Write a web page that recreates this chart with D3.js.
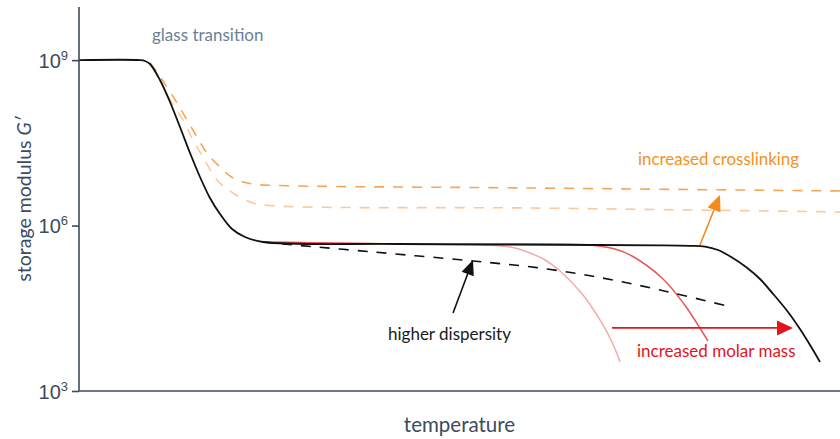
<!DOCTYPE html>
<html>
<head>
<meta charset="utf-8">
<script src="https://cdn.jsdelivr.net/npm/d3@7"></script>
<style>
  html, body { margin: 0; padding: 0; background: #fff; }
  svg { display: block; font-family: Lato, "Noto Sans", sans-serif; }
</style>
</head>
<body>
<svg id="chart" width="840" height="439"></svg>
<script>
// Temperature in arbitrary units (0–100), modulus as log10(G' / Pa)
const mainT    = [0, 8.02, 8.67, 9.33, 10.64, 11.96, 13.27, 14.59, 15.90, 17.21, 18.53, 20.11, 21.81, 24.18, 42.18, 68.46, 76.35, 80.29, 82.26, 83.97, 85.81, 87.65, 89.49, 91.33, 93.17, 94.74, 96.06, 97.37];
const mainLogG = [9.0, 9.0, 8.985, 8.930, 8.640, 8.241, 7.788, 7.316, 6.881, 6.500, 6.210, 5.938, 5.793, 5.702, 5.666, 5.648, 5.642, 5.633, 5.619, 5.557, 5.421, 5.249, 5.031, 4.741, 4.433, 4.124, 3.834, 3.527];

const lowMassT    = [24.18, 42.18, 54.01, 57.29, 59.26, 61.24, 63.21, 66.23, 68.46, 70.04, 71.09];
const lowMassLogG = [5.702, 5.666, 5.648, 5.594, 5.503, 5.376, 5.176, 4.741, 4.288, 3.889, 3.527];

const midMassT    = [24.18, 42.18, 67.14, 70.43, 72.67, 76.61, 79.5, 81.34, 82.65];
const midMassLogG = [5.702, 5.666, 5.648, 5.575, 5.448, 5.049, 4.578, 4.197, 3.907];

const dispersT    = [24.18, 26.81, 38.63, 51.77, 61.5, 70.17, 78.06, 85.15];
const dispersLogG = [5.702, 5.666, 5.521, 5.358, 5.213, 5.013, 4.777, 4.542];

const xlinkHighT    = [9.33, 10.25, 11.56, 12.88, 14.19, 15.51, 16.82, 18.53, 20.24, 22.86, 26.02, 59.26, 100];
const xlinkHighLogG = [8.948, 8.785, 8.513, 8.223, 7.915, 7.606, 7.316, 7.062, 6.863, 6.754, 6.727, 6.682, 6.627];

const xlinkLowT    = [9.33, 10.64, 11.96, 13.67, 14.98, 16.29, 18.13, 20.24, 22.86, 26.02, 59.26, 100];
const xlinkLowLogG = [8.948, 8.640, 8.278, 7.915, 7.552, 7.244, 6.827, 6.591, 6.410, 6.355, 6.319, 6.246];

const tickExponents = [3, 6, 9];

const svg = d3.select("#chart");
const axisColor = "#3e4b5e";

const x = d3.scaleLinear().domain([0, 100]).range([79, 840]);
const y = d3.scaleLog().domain([1e3, 1e10]).range([391, 5]);

const toPoints = (ts, gs) => ts.map((t, i) => [t, Math.pow(10, gs[i])]);
const line = d3.line().x(d => x(d[0])).y(d => y(d[1])).curve(d3.curveCatmullRom.alpha(0.5));

// Curves
function drawCurve(ts, gs, color, width, dash) {
  svg.append("path")
    .datum(toPoints(ts, gs))
    .attr("d", line)
    .attr("fill", "none")
    .attr("stroke", color)
    .attr("stroke-width", width)
    .attr("stroke-linecap", "butt")
    .attr("stroke-dasharray", dash || null);
}
drawCurve(xlinkLowT, xlinkLowLogG, "#fdc99c", 1.6, "10,9");
drawCurve(xlinkHighT, xlinkHighLogG, "#f7a552", 1.6, "10,9");
drawCurve(lowMassT, lowMassLogG, "#f6a9aa", 1.5);
drawCurve(midMassT, midMassLogG, "#ea5659", 1.5);
drawCurve(dispersT, dispersLogG, "#111", 1.6, "10,9");
drawCurve(mainT, mainLogG, "#111", 1.8);

// Axes
const yAxis = d3.axisLeft(y)
  .tickValues(tickExponents.map(e => Math.pow(10, e)))
  .tickSize(7)
  .tickSizeOuter(0)
  .tickFormat("");
const gy = svg.append("g").attr("transform", `translate(${x(0)},0)`).call(yAxis);
gy.select(".domain").attr("stroke", axisColor).attr("stroke-width", 1.6).attr("d", `M0,7V${y(1e3)}`);
gy.selectAll(".tick line").attr("stroke", axisColor).attr("stroke-width", 1.6);
gy.selectAll(".tick").each(function(d) {
  const e = Math.round(Math.log10(d));
  const t = d3.select(this).append("text")
    .attr("x", -11).attr("y", 7)
    .attr("text-anchor", "end")
    .attr("fill", axisColor)
    .attr("font-size", 20);
  t.append("tspan").text("10");
  t.append("tspan").attr("dy", -8).attr("font-size", 13).text(e);
});

svg.append("line")
  .attr("x1", x(0)).attr("x2", x(100))
  .attr("y1", y(1e3)).attr("y2", y(1e3))
  .attr("stroke", axisColor).attr("stroke-width", 1.6);

// Axis titles
svg.append("text")
  .attr("x", x(50)).attr("y", 432)
  .attr("text-anchor", "middle")
  .attr("fill", axisColor)
  .attr("font-size", 20.5)
  .text("temperature");

const yt = svg.append("text")
  .attr("transform", `translate(31,${(7 + y(1e3)) / 2}) rotate(-90)`)
  .attr("text-anchor", "middle")
  .attr("fill", axisColor)
  .attr("font-size", 19.5);
yt.append("tspan").text("storage modulus ");
yt.append("tspan").attr("font-style", "italic").text("G′");

// Annotations
function arrow(t0, g0, t1, g1, color, len, half, width) {
  const x0 = x(t0), y0 = y(Math.pow(10, g0)), x1 = x(t1), y1 = y(Math.pow(10, g1));
  const a = Math.atan2(y1 - y0, x1 - x0);
  const bx = x1 - len * Math.cos(a), by = y1 - len * Math.sin(a);
  svg.append("line")
    .attr("x1", x0).attr("y1", y0).attr("x2", bx).attr("y2", by)
    .attr("stroke", color).attr("stroke-width", width);
  const px = -Math.sin(a) * half, py = Math.cos(a) * half;
  svg.append("path")
    .attr("d", `M${x1},${y1}L${bx + px},${by + py}L${bx - px},${by - py}Z`)
    .attr("fill", color);
}
arrow(81.6, 5.648, 84.23, 6.555, "#f28a1d", 16, 7, 1.6);
arrow(49.15, 4.415, 51.77, 5.376, "#111", 15, 6.5, 1.6);
arrow(70.04, 4.143, 93.82, 4.143, "#e2141d", 16, 7.5, 1.8);

function label(tx, px, py, color, size) {
  svg.append("text").attr("x", px).attr("y", py)
    .attr("fill", color).attr("font-size", size).text(tx);
}
label("glass transition", 152, 41, "#6c7f96", 17);
label("increased crosslinking", 638, 165, "#f39224", 16.9);
label("higher dispersity", 388, 340, "#1a1a1a", 17);
label("increased molar mass", 637, 357, "#e2141d", 17);
</script>
</body>
</html>
